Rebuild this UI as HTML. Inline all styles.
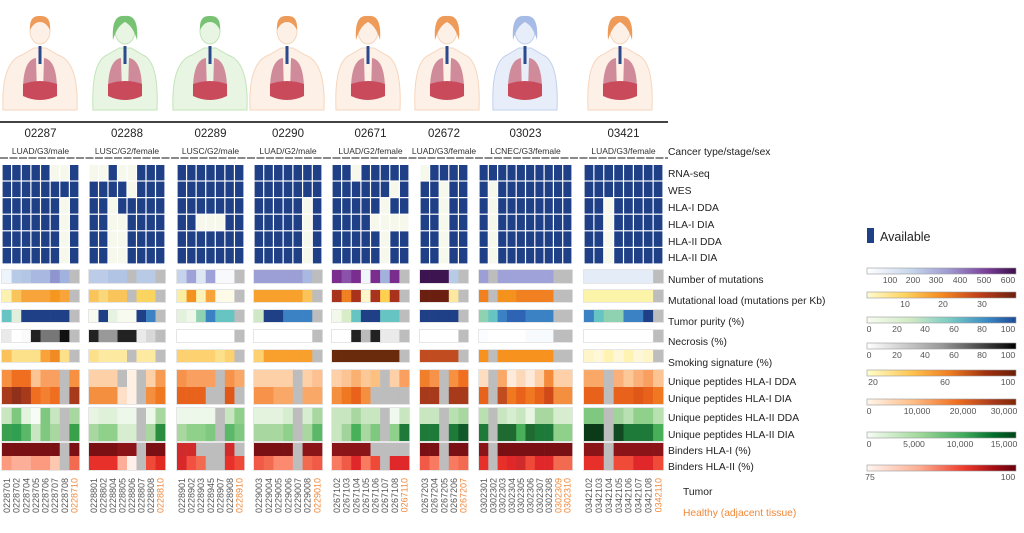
<!DOCTYPE html>
<html><head><meta charset="utf-8">
<style>
html,body{margin:0;padding:0;background:#fff;}
svg{display:block;font-family:"Liberation Sans",sans-serif;}
</style></head>
<body>
<svg id="s" width="1024" height="533" viewBox="0 0 1024 533" xmlns="http://www.w3.org/2000/svg">
<defs>
<linearGradient id="g1"><stop offset="0" stop-color="#fff"/><stop offset=".3" stop-color="#c6d5ec"/><stop offset=".55" stop-color="#9e9ad0"/><stop offset=".8" stop-color="#7a3f9a"/><stop offset="1" stop-color="#3d0f4a"/></linearGradient>
<linearGradient id="g2"><stop offset="0" stop-color="#fffbd0"/><stop offset=".25" stop-color="#fed460"/><stop offset=".5" stop-color="#f58a20"/><stop offset=".75" stop-color="#c0401a"/><stop offset="1" stop-color="#6a1f10"/></linearGradient>
<linearGradient id="g3"><stop offset="0" stop-color="#f7fcf0"/><stop offset=".3" stop-color="#cfe9c5"/><stop offset=".55" stop-color="#7cccc4"/><stop offset=".8" stop-color="#3b8cc4"/><stop offset="1" stop-color="#1f4a9a"/></linearGradient>
<linearGradient id="g4"><stop offset="0" stop-color="#fff"/><stop offset=".5" stop-color="#999"/><stop offset="1" stop-color="#000"/></linearGradient>
<linearGradient id="g5"><stop offset="0" stop-color="#ffffcc"/><stop offset=".3" stop-color="#fec44f"/><stop offset=".55" stop-color="#f07e20"/><stop offset=".8" stop-color="#a0300e"/><stop offset="1" stop-color="#6a2008"/></linearGradient>
<linearGradient id="g6"><stop offset="0" stop-color="#fff5eb"/><stop offset=".3" stop-color="#fdbf8a"/><stop offset=".6" stop-color="#f07020"/><stop offset=".85" stop-color="#a83a1c"/><stop offset="1" stop-color="#7f2704"/></linearGradient>
<linearGradient id="g7"><stop offset="0" stop-color="#f7fcf5"/><stop offset=".35" stop-color="#a1d99b"/><stop offset=".65" stop-color="#41ab5d"/><stop offset=".85" stop-color="#006d2c"/><stop offset="1" stop-color="#00441b"/></linearGradient>
<linearGradient id="g8"><stop offset="0" stop-color="#fff5f0"/><stop offset=".35" stop-color="#fcae91"/><stop offset=".65" stop-color="#ef3b2c"/><stop offset=".85" stop-color="#a50f15"/><stop offset="1" stop-color="#67000d"/></linearGradient>
</defs>
<g id="root"></g>
</svg>
<script>
var out=[];
function R(x,y,w,h,f,extra){out.push('<rect x="'+x.toFixed(2)+'" y="'+y.toFixed(2)+'" width="'+w.toFixed(2)+'" height="'+h.toFixed(2)+'" fill="'+f+'" '+(extra||'')+'/>');}
function T(x,y,t,s,c,extra){out.push('<text x="'+x+'" y="'+y+'" font-size="'+s+'" fill="'+(c||'#222')+'" '+(extra||'')+'>'+t+'</text>');}
var people=[[40,'o','m'],[125,'g','f'],[210,'g','m'],[287,'o','m'],[368,'o','f'],[447,'o','f'],[525,'b','f'],[620,'o','f']];
var pc={o:['#fdf0e6','#f6d6bd','#ee9a58'],g:['#e8f5e3','#c3e4ba','#78c373'],b:['#e8eef9','#c2d0ec','#a6bbe6']};
people.forEach(function(p){var x=p[0],c=pc[p[1]],f=p[2]=='f';
 var sw=f?32:37;
 out.push('<path d="M'+(x-sw)+' 110 Q'+(x-sw-2)+' 62 '+(x-18)+' 55 L'+(x-6)+' 48 L'+(x+6)+' 48 L'+(x+18)+' 55 Q'+(x+sw+2)+' 62 '+(x+sw)+' 110 Z" fill="'+c[0]+'" stroke="'+c[1]+'" stroke-width="1"/>');
 out.push('<ellipse cx="'+x+'" cy="31" rx="10" ry="13" fill="'+c[0]+'" stroke="'+c[1]+'"/>');
 if(f) out.push('<path d="M'+(x-12)+' 40 Q'+(x-14)+' 14 '+x+' 16 Q'+(x+14)+' 14 '+(x+12)+' 40 Q'+(x+8)+' 26 '+x+' 22 Q'+(x-8)+' 26 '+(x-12)+' 40Z" fill="'+c[2]+'"/>');
 else out.push('<path d="M'+(x-10)+' 30 Q'+(x-11)+' 15 '+x+' 16 Q'+(x+11)+' 15 '+(x+10)+' 30 Q'+(x+6)+' 22 '+x+' 22 Q'+(x-6)+' 22 '+(x-10)+' 30Z" fill="'+c[2]+'"/>');
 out.push('<path d="M'+(x-4)+' 58 Q'+(x-18)+' 60 '+(x-17)+' 96 L'+(x-3)+' 93 Z" fill="#cf8b9a"/><path d="M'+(x+4)+' 58 Q'+(x+18)+' 60 '+(x+17)+' 96 L'+(x+3)+' 93 Z" fill="#cf8b9a"/>');
 out.push('<path d="M'+(x-17)+' 84 Q'+x+' 78 '+(x+17)+' 84 L'+(x+17)+' 96 Q'+x+' 104 '+(x-17)+' 96Z" fill="#c94a5a"/>');
 out.push('<rect x="'+(x-1.5)+'" y="46" width="3" height="18" fill="#2b4a8c"/>');
});
R(0,121,668,2,'#444');
out.push('<line x1="0" y1="158" x2="668" y2="158" stroke="#444" stroke-width="1.2" stroke-dasharray="8,1.5"/>');
var G=[[2,79,'02287','LUAD/G3/male'],[89,165,'02288','LUSC/G2/female'],[177,244,'02289','LUSC/G2/male'],[254,322,'02290','LUAD/G2/male'],[332,409,'02671','LUAD/G2/female'],[420,468,'02672','LUAD/G3/female'],[479,572,'03023','LCNEC/G3/female'],[584,663,'03421','LUAD/G3/female']];
var labs=[
['0228701','0228702','0228704','0228705','0228706','0228707','0228708','0228710'],
['0228801','0228802','0228804','0228805','0228806','0228807','0228808','0228810'],
['0228901','0228902','0228903','0228945','0228907','0228908','0228910'],
['0229003','0229004','0229005','0229006','0229007','0229008','0229010'],
['0267102','0267103','0267104','0267105','0267106','0267107','0267108','0267110'],
['0267203','0267204','0267205','0267206','0267207'],
['0302301','0302302','0302303','0302304','0302305','0302306','0302307','0302308','0302309','0302310'],
['0342102','0342103','0342104','0342105','0342106','0342107','0342108','0342110']];
var healthy=[1,1,1,1,1,1,2,1];
var avail=[
['BBBBBEEB','BBBBBBBB','BBBBBBEB','BBBBBBEB','BBBBBBEB','BBBBBBEB'],
['EEBEEBBB','BBBBEBBB','BBEBBBBB','BBEEBBBB','BBEEBBBB','BBEEBBBB'],
['BBBBBBB','BBBBBBB','BBBBBBB','BBEEEBB','BBBBBBB','BBBBBBB'],
['BBBBBBB','BBBBBBB','BBBBBEB','BBBBBEB','BBBBBEB','BBBBBEB'],
['BBEBBBBB','BBBBBBEB','BBBBBEBB','BBBBEEEE','BBBBBEBB','BBBBBEBB'],
['EBBBB','BBEBB','BBEBB','BBEBB','BBEBB','BBEBB'],
['BBBBBBBBBB','BEBBBBBBBB','BEBBBBBBBB','BEBBBBBBBB','BEBBBBBBBB','BEBBBBBBBB'],
['BBBBBBBB','BBBBBBBB','BBEBBBBB','BBEBBBBB','BBEBBBBB','BBEBBBBB']];
var g='#bdbdbd';
function rep(c,n){var a=[];for(var i=0;i<n;i++)a.push(c);return a;}
var heat=[
[['#eef4fb','#b8cbe6','#b3c6e5','#a8b8e0','#a8b8e0','#8f95cf','#a2b2de',g],['#bccce8','#bccce8','#b2c4e4','#b2c4e4',g,'#b8cae6','#b8cae6',g],['#c5d4ec','#9ea2d8','#dde6f3','#9ea2d8','#f8f9fd','#f8f9fd',g],rep('#9b9fd6',5).concat(['#a8b8e0',g]),['#7b2d8f','#8a52a8','#7b2d8f','#f0f4fb','#7b2d8f','#a3b2dd','#7b2d8f',g],['#3d1450','#3d1450','#3d1450','#b8cbe6',g],['#9b9fd6',g].concat(rep('#9ea2d8',6)).concat([g,g]),rep('#e3ecf7',7).concat([g])],
[['#fbf1b0','#f9c55a','#f7a43a','#f7a43a','#f7a43a','#f5961f','#f7a43a',g],['#f9c55a','#f9d77a','#f9c55a','#f9c55a',g,'#f9d460','#f9d460',g],['#fbeea0','#f5921e','#fbf3b8','#f7a43a','#fdfbe8','#fdfbe8',g],rep('#f7a02c',5).concat(['#f9c55a',g]),['#a8321c','#f08020','#a8321c','#fdf6c8','#a8321c','#fdd050','#a8321c',g],['#6a1f10','#6a1f10','#6a1f10','#fde8a0',g],['#f08020',g,'#f5921e','#f5921e','#f08020','#f08020','#f08020','#f08020',g,g],rep('#fbf3a8',7).concat([g])],
[['#66c5c2','#e0f0dc'].concat(rep('#1f3f87',5)).concat([g]),['#f7fbef','#1f3f87','#e6f3e0','#f7fbef','#f7fbef','#1f3f87','#3b82c4',g],['#e3f2dd','#eef7e8','#8ed2b2','#3b82c4','#66c5c2','#66c5c2',g],['#cfe8c5','#1f3f87','#1f3f87','#3b82c4','#3b82c4','#3b82c4',g],['#f3f9ea','#d6edc8','#66c5c2','#1f3f87','#1f3f87','#66c5c2','#66c5c2',g],rep('#1f3f87',4).concat([g]),['#8ed2b2','#66c5c2','#3b82c4','#2f64b4','#2f64b4','#3b82c4','#3b82c4','#3b82c4',g,g],['#3b82c4','#66c5c2','#8ed2b2','#8ed2b2','#3b82c4','#3b82c4','#1f3f87',g]],
[['#eaeaea','#fff','#fafafa','#222','#777','#777','#111',g],['#222','#999','#999','#222','#222','#eaeaea','#d8d8d8',g],rep('#fff',6).concat([g]),rep('#fff',6).concat([g]),['#fff','#fff','#222','#bbb','#222','#eaeaea','#eaeaea',g],rep('#fff',4).concat([g]),['#fafcff','#fff','#fff','#fff','#fff','#f7fbfd','#f7fbfd','#f7fbfd',g,g],rep('#fff',7).concat([g])],
[['#fbc25a','#fde08a','#fde08a','#fde08a','#f9a23a','#f28a24','#fde08a',g],['#fde08a','#fde9a0','#fde9a0','#fde9a0',g,'#fde9a0','#fde9a0',g],['#fdd070','#fdd070','#fdd070','#fdd070','#fde08a','#fdd070',g],['#fdd070'].concat(rep('#f9a02c',5)).concat([g]),rep('#6a2a0c',7).concat([g]),rep('#c04c20',4).concat([g]),['#f7921e',g].concat(rep('#f7921e',6)).concat([g,g]),['#fef6c8','#fef8d8','#fef3b0','#fef8d8','#fef3b0','#fef8d8','#fef6c8',g]],
[['#f79040','#f06e20','#f06e20','#fcc492','#f9a060','#f9a060',g,'#f79040'],['#fdd0a8','#fdd0a8','#fdd0a8',g,'#fff0e4',g,'#fdd0a8','#f79a52'],['#f7924a','#f9a060','#f9a060','#f9a060',g,'#f7924a','#f9a868'],['#fdd0a8','#fdd0a8','#fdd0a8','#fdd0a8',g,'#fdd0a8','#fdc090'],['#fdd0a8','#fcc492','#fab070','#fdc898','#fcc080',g,'#fdd0a8','#f9a060'],['#f07e2a','#f7924a',g,'#f79040','#f07020'],['#fedcc0',g,'#f9a868','#feeadb','#fdd8b8','#feeadb','#fdd0a8','#f48a3a','#fdd0a8','#fdd0a8'],['#f9a868','#f9a868',g,'#fab078','#fcc898','#fab078','#f9a060','#fcc492']],
[['#a83a1c','#90301a','#a83a1c','#f06e20','#f28030','#f06e20',g,'#a83a1c'],['#f58f40','#f58f40','#f58f40','#fee0c8','#fef0e4',g,'#f58f40','#f07820'],['#e8621c','#e8621c','#e8621c',g,g,'#e05818',g],['#f7924a','#f7924a','#f9a868','#f9a868',g,'#f9a868','#f9a868'],['#f58f40','#f07820','#e8621c','#f58f40',g,g,g,g],['#a83a1c','#a83a1c',g,'#a83a1c','#a83a1c'],['#e8621c',g,'#c04c20','#f07820','#e8621c','#f07820','#e8621c','#d04a18','#f58f40','#f58f40'],['#e8621c','#e8621c',g,'#e8621c','#e8621c','#e05818','#e8621c','#f07820']],
[['#c8e6c0','#7fc87f','#e3f3dd','#f7fcf5','#7fc87f','#c8e6c0',g,'#a8d8a0'],['#e8f5e3','#e0f1da','#e0f1da','#eef8ea','#eef8ea',g,'#eef8ea','#a8d8a0'],['#eef8ea','#eef8ea','#eef8ea','#eef8ea',g,'#c8e6c0','#8fd08a'],['#e3f3dd','#e3f3dd','#e3f3dd','#d6edcf',g,'#d6edcf','#a8d8a0'],['#c8e6c0','#c8e6c0','#a8d8a0','#c8e6c0','#c8e6c0',g,'#f0f9ed','#c8e6c0'],['#c8e6c0','#c8e6c0',g,'#b8e0b0','#a8d8a0'],['#b8e0b0',g,'#c8e6c0','#d6edcf','#c8e6c0','#e8f5e3','#a8d8a0','#a8d8a0','#d6edcf','#d6edcf'],['#7fc87f','#7fc87f',g,'#a0d49a','#b8e0b0','#8fd08a','#8fd08a','#b8e0b0']],
[['#3aa050','#30a050','#5ab868','#c8e6c0','#7fc87f','#a8d8a0',g,'#38a048'],['#a8d8a0','#8fd08a','#8fd08a','#d6edcf','#d6edcf',g,'#a8d8a0','#2a8e40'],['#a8d8a0','#8fd08a','#8fd08a','#7fc87f',g,'#5ab868','#7fc87f'],['#a8d8a0','#a8d8a0','#a8d8a0','#8fd08a',g,'#a8d8a0','#5ab868'],['#c8e6c0','#a0d49a','#48b058','#a8d8a0','#7fc87f',g,'#8fd08a','#1e7a38'],['#1e7a38','#1e7a38',g,'#1e7a38','#0f5a28'],['#1e7a38',g,'#1e6a30','#1e6a30','#48b058','#1e6a30','#1e7a38','#1e7a38','#8fd08a','#8fd08a'],['#0a3a18','#0a3a18',g,'#0f4a20','#1e7a38','#1e7a38','#1e7a38','#48b058']],
[rep('#7a1014',6).concat([g,'#7a1014']),['#7a1014','#7a1014','#7a1014','#8a1418','#8a1418',g,'#7a1014','#7a1014'],['#d02a2a','#d02a2a',g,g,g,'#d02a2a',g],['#7a1014','#7a1014','#7a1014','#7a1014',g,'#8a1418','#8a1418'],rep('#8a1418',4).concat(rep(g,4)),['#7a1014','#7a1014',g,'#7a1014','#7a1014'],['#8a1418',g].concat(rep('#7a1014',8)),['#8a1418','#8a1418',g].concat(rep('#8a1418',5))],
[['#fc9a80','#fcae98','#fcae98','#fc9a80','#fc9a80','#fcc8b0',g,'#f26a50'],['#e8302a','#e8302a','#e8302a','#fcae98','#fff0ea',g,'#ef4a38','#e02a22'],['#d8282a','#f25040','#f26a50',g,g,'#e8302a','#ef4a38'],['#f25a48','#f26a50','#fc8a70','#fc8a70',g,'#f26a50','#f25a48'],['#f87a60','#f25a48','#e0282a','#f87a60','#ef4a38',g,'#e0282a','#e0282a'],['#f25a48','#f87a60',g,'#f87a60','#f26a50'],['#e8302a',g,'#e8302a','#e0282a','#d02a2a','#ef4a38','#e0282a','#e0282a','#f26a50','#f26a50'],['#e8302a','#e8302a',g,'#f04a38','#f04a38','#e0282a','#e0282a','#f04a38']]
];
var rowsY=[[270,13],[290,12],[310,12],[330,12],[350,12],[370,17],[387,17],[408,16],[424,17],[443,13],[456,14]];
var blocks=[[0],[1],[2],[3],[4],[5,6],[7,8],[9,10]];
G.forEach(function(gr,gi){
 var x0=gr[0],x1=gr[1],n=labs[gi].length,cw=(x1-x0)/n,cx=(x0+x1)/2;
 T(cx,137,gr[2],11.5,'#222','text-anchor="middle"');
 T(cx,154,gr[3],8.5,'#333','text-anchor="middle"');
 for(var r=0;r<6;r++){var y=165+r*16.6;
  for(var c=0;c<n;c++){var b=avail[gi][r][c]=='B';R(x0+c*cw+0.6,y,cw-1.2,15.4,b?'#1f3f87':'#f6f8ec');}}
 blocks.forEach(function(bl){var yt=rowsY[bl[0]][0],last=rowsY[bl[bl.length-1]];
  R(x0-1,yt-1,x1-x0+2,last[0]+last[1]-yt+2,'#e6e6e6');});
 rowsY.forEach(function(ry,ri){for(var c=0;c<n;c++){R(x0+c*cw,ry[0],cw+0.3,ry[1],heat[ri][gi][c]);}});
 labs[gi].forEach(function(l,c){var lx=x0+c*cw+cw/2+3.3;var col=c>=n-healthy[gi]?'#f0883a':'#555';
  T(lx,478,l,9,col,'text-anchor="end" transform="rotate(-90 '+lx+' 478)"');});
});
var rl=[['Cancer type/stage/sex',155],['RNA-seq',177],['WES',194],['HLA-I DDA',211],['HLA-I DIA',228],['HLA-II DDA',245],['HLA-II DIA',261],['Number of mutations',283],['Mutational load (mutations per Kb)',304],['Tumor purity (%)',325],['Necrosis (%)',345],['Smoking signature (%)',366],['Unique peptides HLA-I DDA',385],['Unique peptides HLA-I DIA',402],['Unique peptides HLA-II DDA',421],['Unique peptides HLA-II DIA',438],['Binders HLA-I (%)',454],['Binders HLA-II (%)',470]];
rl.forEach(function(a){T(668,a[1],a[0],10.3,'#222');});
T(683,495,'Tumor',10.3,'#222');T(683,516,'Healthy (adjacent tissue)',10.3,'#f0883a');
R(867,228,7,15,'#1f3f87');T(880,241,'Available',12.5,'#222');
var bars=[[268,'g1',[['100',890],['200',913],['300',936],['400',960],['500',984],['600',1008]]],[292,'g2',[['10',905],['20',943],['30',982]]],[317,'g3',[['0',869],['20',897],['40',925],['60',954],['80',982],['100',1008]]],[343,'g4',[['0',869],['20',897],['40',925],['60',954],['80',982],['100',1008]]],[370,'g5',[['20',873],['60',945],['100',1008]]],[399,'g6',[['0',869],['10,000',917],['20,000',963],['30,000',1004]]],[432,'g7',[['0',869],['5,000',914],['10,000',960],['15,000',1004]]],[465,'g8',[['75',870],['100',1008]]]];
bars.forEach(function(b){R(867,b[0],149,6,'url(#'+b[1]+')','stroke="#999" stroke-width=".6"');
 b[2].forEach(function(t){T(t[1],b[0]+15,t[0],8.7,'#555','text-anchor="middle"');});});
document.getElementById('root').innerHTML=out.join('');
</script>
</body></html>
